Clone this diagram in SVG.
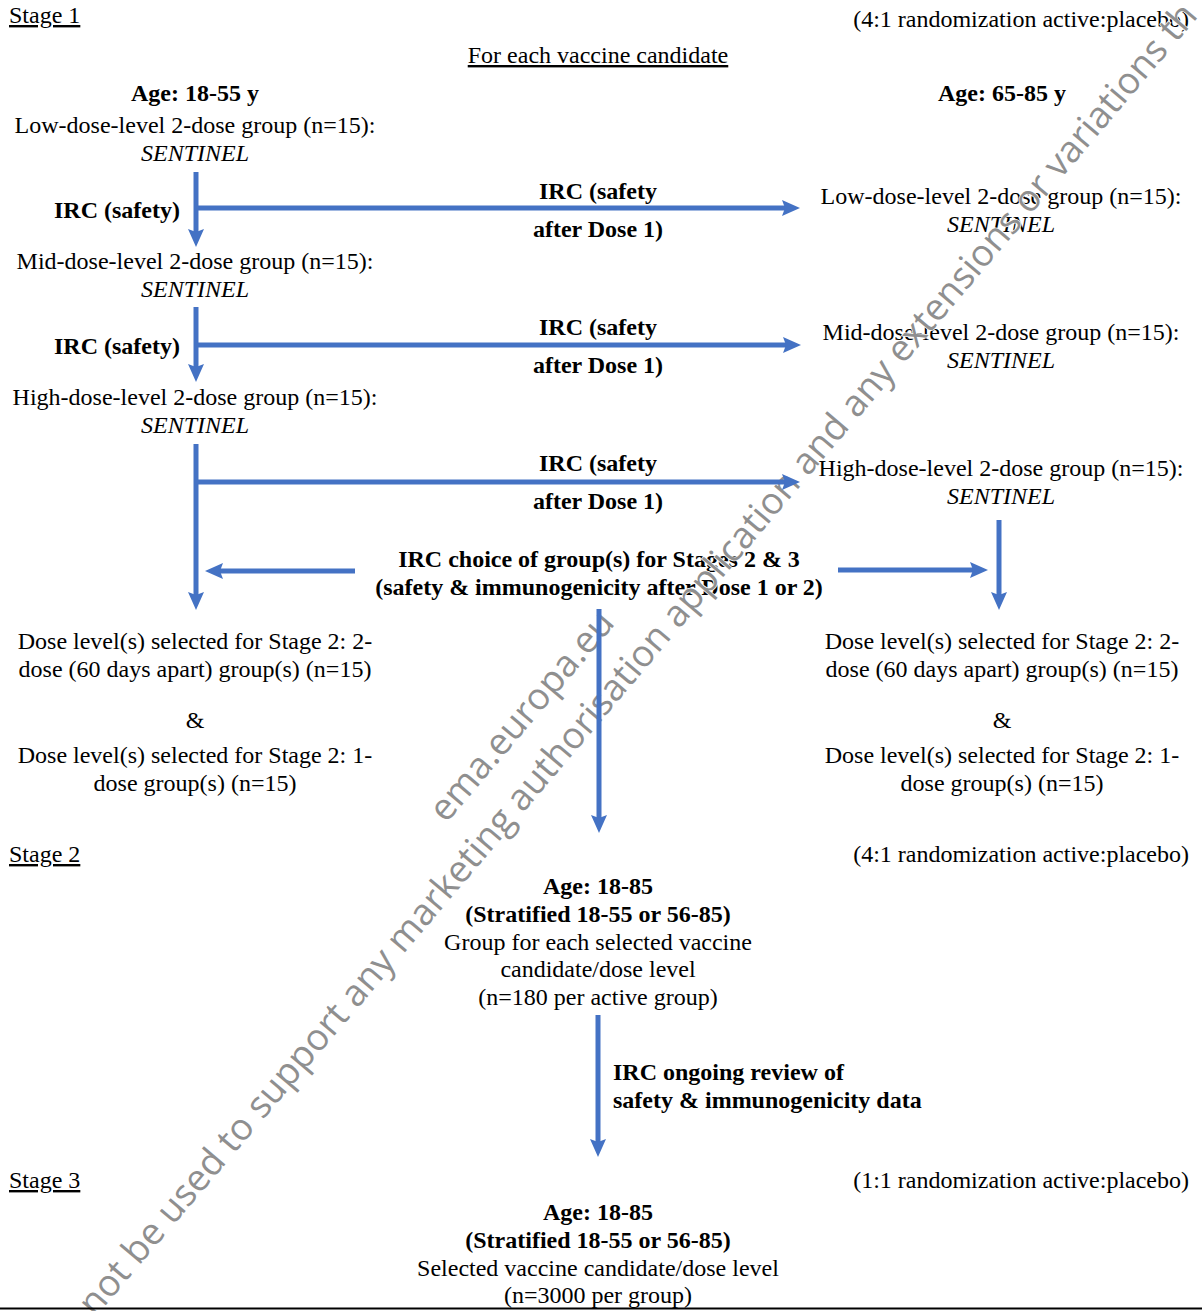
<svg xmlns="http://www.w3.org/2000/svg" width="1202" height="1311" viewBox="0 0 1202 1311">
<style>
  text { font-family: "Liberation Serif", "Times New Roman", serif; font-size: 24px; fill: #000; }
  .c { text-anchor: middle; }
  .r { text-anchor: end; }
  .b { font-weight: bold; }
  .i { font-style: italic; }
  .u { text-decoration: underline; }
  .wm { font-family: "Open Sans", "Liberation Sans", sans-serif; font-size: 37px; fill: #8f8f8f; stroke: #fff; stroke-width: 1.5; paint-order: stroke; }
  .arr { stroke: #4472C4; stroke-width: 5; fill: none; marker-end: url(#ah); }
</style>
<defs>
  <marker id="ah" markerUnits="userSpaceOnUse" markerWidth="18" markerHeight="16" refX="8" refY="8" orient="auto" overflow="visible">
    <path d="M0,0 L18,8 L0,16 L3,8 z" fill="#4472C4"/>
  </marker>
</defs>
<rect width="1202" height="1311" fill="#fff"/>

<g id="stage1-header">
  <text x="9" y="23" class="u">Stage 1</text>
  <text x="1189" y="27" class="r">(4:1 randomization active:placebo)</text>
  <text x="598" y="63" class="c u">For each vaccine candidate</text>
</g>
<g id="age-18-55"><text x="195" y="101" class="c b">Age: 18-55 y</text></g>
<g id="age-65-85"><text x="1002" y="101" class="c b">Age: 65-85 y</text></g>

<g id="left-low"><text x="195" y="133" class="c">Low-dose-level 2-dose group (n=15):</text><text x="195" y="161" class="c i">SENTINEL</text></g>
<g id="left-mid"><text x="195" y="269" class="c">Mid-dose-level 2-dose group (n=15):</text><text x="195" y="297" class="c i">SENTINEL</text></g>
<g id="left-high"><text x="195" y="405" class="c">High-dose-level 2-dose group (n=15):</text><text x="195" y="433" class="c i">SENTINEL</text></g>

<g id="right-low"><text x="1001" y="204" class="c">Low-dose-level 2-dose group (n=15):</text><text x="1001" y="232" class="c i">SENTINEL</text></g>
<g id="right-mid"><text x="1001" y="340" class="c">Mid-dose-level 2-dose group (n=15):</text><text x="1001" y="368" class="c i">SENTINEL</text></g>
<g id="right-high"><text x="1001" y="476" class="c">High-dose-level 2-dose group (n=15):</text><text x="1001" y="504" class="c i">SENTINEL</text></g>

<g id="irc-left-1"><text x="180" y="218" class="r b">IRC (safety)</text></g>
<g id="irc-left-2"><text x="180" y="354" class="r b">IRC (safety)</text></g>
<g id="irc-mid-1"><text x="598" y="199" class="c b">IRC (safety</text><text x="598" y="237" class="c b">after Dose 1)</text></g>
<g id="irc-mid-2"><text x="598" y="335" class="c b">IRC (safety</text><text x="598" y="373" class="c b">after Dose 1)</text></g>
<g id="irc-mid-3"><text x="598" y="471" class="c b">IRC (safety</text><text x="598" y="509" class="c b">after Dose 1)</text></g>

<g id="irc-choice"><text x="599" y="567" class="c b">IRC choice of group(s) for Stages 2 &amp; 3</text><text x="599" y="595" class="c b">(safety &amp; immunogenicity after Dose 1 or 2)</text></g>

<g id="left-selected">
  <text x="195" y="649" class="c">Dose level(s) selected for Stage 2: 2-</text>
  <text x="195" y="677" class="c">dose (60 days apart) group(s) (n=15)</text>
  <text x="195" y="728" class="c">&amp;</text>
  <text x="195" y="763" class="c">Dose level(s) selected for Stage 2: 1-</text>
  <text x="195" y="791" class="c">dose group(s) (n=15)</text>
</g>
<g id="right-selected">
  <text x="1002" y="649" class="c">Dose level(s) selected for Stage 2: 2-</text>
  <text x="1002" y="677" class="c">dose (60 days apart) group(s) (n=15)</text>
  <text x="1002" y="728" class="c">&amp;</text>
  <text x="1002" y="763" class="c">Dose level(s) selected for Stage 2: 1-</text>
  <text x="1002" y="791" class="c">dose group(s) (n=15)</text>
</g>

<g id="stage2-header">
  <text x="9" y="862" class="u">Stage 2</text>
  <text x="1189" y="862" class="r">(4:1 randomization active:placebo)</text>
</g>
<g id="stage2-group">
  <text x="598" y="894" class="c b">Age: 18-85</text>
  <text x="598" y="922" class="c b">(Stratified 18-55 or 56-85)</text>
  <text x="598" y="950" class="c">Group for each selected vaccine</text>
  <text x="598" y="977" class="c">candidate/dose level</text>
  <text x="598" y="1005" class="c">(n=180 per active group)</text>
</g>
<g id="irc-ongoing">
  <text x="613" y="1080" class="b">IRC ongoing review of</text>
  <text x="613" y="1108" class="b">safety &amp; immunogenicity data</text>
</g>
<g id="stage3-header">
  <text x="9" y="1188" class="u">Stage 3</text>
  <text x="1189" y="1188" class="r">(1:1 randomization active:placebo)</text>
</g>
<g id="stage3-group">
  <text x="598" y="1220" class="c b">Age: 18-85</text>
  <text x="598" y="1248" class="c b">(Stratified 18-55 or 56-85)</text>
  <text x="598" y="1276" class="c">Selected vaccine candidate/dose level</text>
  <text x="598" y="1303" class="c">(n=3000 per group)</text>
</g>

<g id="watermark">
  <text class="wm" transform="translate(95,1318) rotate(-49.7)">not be used to support any marketing authorisation application and any extensions or variations th</text>
  <text class="wm" transform="translate(446,824) rotate(-49.7)">ema.europa.eu</text>
</g>

<g id="connectors">
  <line class="arr" x1="196" y1="172" x2="196" y2="237"/>
  <line class="arr" x1="196" y1="208" x2="790" y2="208"/>
  <line class="arr" x1="196" y1="307" x2="196" y2="372"/>
  <line class="arr" x1="196" y1="345" x2="791" y2="345"/>
  <line class="arr" x1="196" y1="444" x2="196" y2="600"/>
  <line class="arr" x1="196" y1="482" x2="790" y2="482"/>
  <line class="arr" x1="355" y1="571" x2="215" y2="571"/>
  <line class="arr" x1="838" y1="570" x2="978" y2="570"/>
  <line class="arr" x1="999" y1="520" x2="999" y2="600"/>
  <line class="arr" x1="599" y1="609" x2="599" y2="823"/>
  <line class="arr" x1="598" y1="1015" x2="598" y2="1147"/>
  <line x1="0" y1="1308.5" x2="1202" y2="1308.5" stroke="#000" stroke-width="2"/>
</g>
</svg>
